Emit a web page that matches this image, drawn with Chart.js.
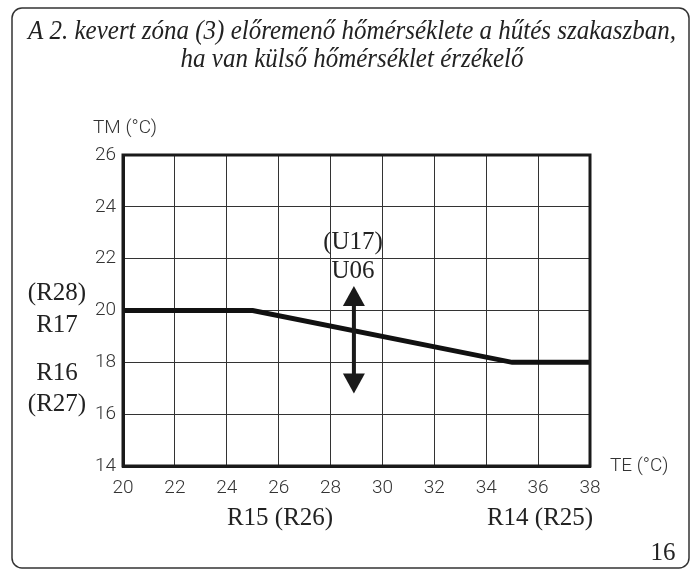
<!DOCTYPE html>
<html>
<head>
<meta charset="utf-8">
<script src="https://cdn.jsdelivr.net/npm/chart.js@4/dist/chart.umd.min.js"></script>
<style>
  body { margin: 0; background: #fff; }
  canvas { display: block; }
</style>
</head>
<body>
<canvas id="chart" width="694" height="570"></canvas>
<script>
// TE (°C) outside temperature -> TM (°C) flow temperature
const teValues = [20, 25, 35, 38];
const tmValues = [20, 20, 18, 18];
const xTicks = [20, 22, 24, 26, 28, 30, 32, 34, 36, 38];
const yTicks = [14, 16, 18, 20, 22, 24, 26];
// U06 adjustment arrow (x, y from, y to)
const arrowX = 28.9;
const arrowRange = [20.95, 16.8];

const titleLines = [
    'A 2. kevert zóna (3) előremenő hőmérséklete a hűtés szakaszban,',
    'ha van külső hőmérséklet érzékelő'
];

const serif = '"Liberation Serif", "DejaVu Serif", serif';
const sans = 'Roboto, "DejaVu Sans", sans-serif';

const decorPlugin = {
    id: 'decor',
    beforeDraw(chart) {
        const ctx = chart.ctx;
        ctx.save();
        // outer rounded frame
        ctx.strokeStyle = '#333';
        ctx.lineWidth = 1.5;
        ctx.beginPath();
        ctx.roundRect(12, 8, 677, 560, 10);
        ctx.stroke();

        // title, italic serif, squeezed to the box width
        ctx.fillStyle = '#222';
        ctx.font = 'italic 28px ' + serif;
        ctx.textAlign = 'center';
        ctx.textBaseline = 'alphabetic';
        const w0 = ctx.measureText(titleLines[0]).width;
        const sx = 648 / w0;
        ctx.translate(352, 0);
        ctx.scale(sx, 1);
        ctx.fillText(titleLines[0], 0, 39);
        ctx.fillText(titleLines[1], 0, 67);
        ctx.restore();
    },
    afterDraw(chart) {
        const ctx = chart.ctx;
        const { left, top, right, bottom } = chart.chartArea;
        const xs = chart.scales.x, ys = chart.scales.y;
        ctx.save();
        // thick frame
        ctx.strokeStyle = '#1a1a1a';
        ctx.lineWidth = 3;
        ctx.strokeRect(left, top, right - left, bottom - top);

        // double arrow
        const ax = xs.getPixelForValue(arrowX);
        const y1 = ys.getPixelForValue(arrowRange[0]);
        const y2 = ys.getPixelForValue(arrowRange[1]);
        const hh = 20, hw = 11;
        ctx.fillStyle = '#1a1a1a';
        ctx.fillRect(ax - 2, y1 + hh - 2, 4, (y2 - y1) - 2 * hh + 4);
        ctx.beginPath();
        ctx.moveTo(ax, y1); ctx.lineTo(ax + hw, y1 + hh); ctx.lineTo(ax - hw, y1 + hh); ctx.closePath();
        ctx.fill();
        ctx.beginPath();
        ctx.moveTo(ax, y2); ctx.lineTo(ax + hw, y2 - hh); ctx.lineTo(ax - hw, y2 - hh); ctx.closePath();
        ctx.fill();

        // serif labels
        ctx.fillStyle = '#222';
        ctx.font = '25px ' + serif;
        ctx.textAlign = 'center';
        ctx.textBaseline = 'middle';
        ctx.fillText('(U17)', 353, 242);
        ctx.fillText('U06', 353, 271);
        ctx.fillText('(R28)', 57, 293);
        ctx.fillText('R17', 57, 325);
        ctx.fillText('R16', 57, 373);
        ctx.fillText('(R27)', 57, 404);
        ctx.fillText('R15 (R26)', 280, 518);
        ctx.fillText('R14 (R25)', 540, 518);
        ctx.fillText('16', 663, 553);

        // axis titles
        ctx.fillStyle = '#333';
        ctx.font = '300 19px ' + sans;
        ctx.textAlign = 'left';
        ctx.fillText('TM (°C)', 93, 128);
        ctx.fillText('TE (°C)', 610, 466);
        ctx.restore();
    }
};

new Chart(document.getElementById('chart'), {
    type: 'line',
    data: {
        datasets: [{
            data: teValues.map((x, i) => ({ x: x, y: tmValues[i] })),
            borderColor: '#111',
            borderWidth: 5,
            pointRadius: 0,
            tension: 0,
            fill: false
        }]
    },
    options: {
        responsive: false,
        animation: false,
        devicePixelRatio: 1,
        layout: { padding: { top: 155, right: 104, left: 0, bottom: 0 } },
        plugins: { legend: { display: false }, tooltip: { enabled: false } },
        scales: {
            x: {
                type: 'linear',
                min: xTicks[0],
                max: xTicks[xTicks.length - 1],
                afterBuildTicks: (s) => { s.ticks = xTicks.map(v => ({ value: v })); },
                afterFit: (s) => { s.height = 104; },
                ticks: { color: '#333', padding: 11, font: { family: sans, size: 19, weight: 300 } },
                grid: { color: '#333', lineWidth: 1, drawTicks: false },
                border: { color: '#1a1a1a', width: 3 }
            },
            y: {
                min: yTicks[0],
                max: yTicks[yTicks.length - 1],
                afterBuildTicks: (s) => { s.ticks = yTicks.map(v => ({ value: v })); },
                afterFit: (s) => { s.width = 123; },
                ticks: { color: '#333', padding: 7, font: { family: sans, size: 19, weight: 300 } },
                grid: { color: '#333', lineWidth: 1, drawTicks: false },
                border: { color: '#1a1a1a', width: 3 }
            }
        }
    },
    plugins: [decorPlugin]
});
</script>
</body>
</html>
